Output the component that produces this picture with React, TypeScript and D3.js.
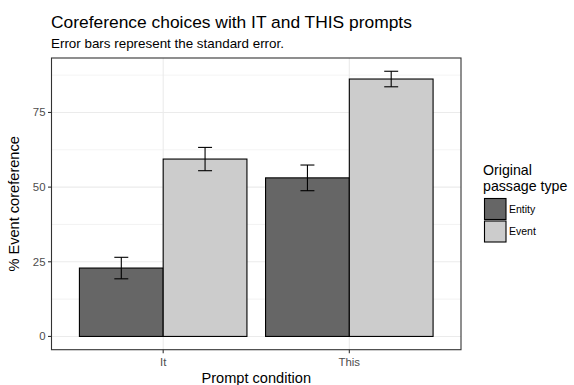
import * as d3 from "d3";

const prompts = ["It", "This"];
const passageTypes = ["Entity", "Event"];
const fills = ["#666666", "#CCCCCC"];
// mean % event coreference per passage type, in prompt order
const meanEntity = [22.9, 53.1];
const meanEvent = [59.4, 86.2];
// standard errors
const seEntity = [3.6, 4.3];
const seEvent = [3.9, 2.6];
const yTicks = [0, 25, 50, 75];
const yMinor = [12.5, 37.5, 62.5, 87.5];

const W = 574;
const H = 385;
const panel = { left: 51.5, right: 461, top: 58, bottom: 349.7 };

const rows = prompts.flatMap((p, i) => [
  { prompt: p, type: passageTypes[0], mean: meanEntity[i], se: seEntity[i] },
  { prompt: p, type: passageTypes[1], mean: meanEvent[i], se: seEvent[i] },
]);

const App = () => {
  const maxTop = d3.max(rows, (d) => d.mean + d.se) as number;
  const pad = maxTop * 0.05;
  const y = d3
    .scaleLinear()
    .domain([-pad, maxTop + pad])
    .range([panel.bottom, panel.top]);

  // discrete axis with 0.6 expansion each side
  const x = d3
    .scaleLinear()
    .domain([0.4, prompts.length + 0.6])
    .range([panel.left, panel.right]);
  const dodge = d3.scaleBand().domain(passageTypes).range([-0.45, 0.45]);
  const color = d3.scaleOrdinal<string>().domain(passageTypes).range(fills);
  const capHalf = 0.0375;

  const font = "'Liberation Sans', Arial, Helvetica, sans-serif";

  return (
    <svg
      width={W}
      height={H}
      style={{ position: "absolute", left: 0, top: 0, background: "white" }}
      fontFamily={font}
    >
      <rect x={0} y={0} width={W} height={H} fill="white" />
      <text x={51} y={27.5} fontSize={17.4} fill="#000">
        Coreference choices with IT and THIS prompts
      </text>
      <text x={51} y={47.5} fontSize={13.4} fill="#000">
        Error bars represent the standard error.
      </text>

      {/* grid */}
      {yMinor.map((v) => (
        <line key={"mi" + v} x1={panel.left} x2={panel.right} y1={y(v)} y2={y(v)} stroke="#EBEBEB" strokeWidth={0.6} />
      ))}
      {yTicks.map((v) => (
        <line key={"ma" + v} x1={panel.left} x2={panel.right} y1={y(v)} y2={y(v)} stroke="#EBEBEB" strokeWidth={1.1} />
      ))}
      {prompts.map((p, i) => (
        <line key={"vx" + p} x1={x(i + 1)} x2={x(i + 1)} y1={panel.top} y2={panel.bottom} stroke="#EBEBEB" strokeWidth={1.1} />
      ))}

      {/* bars */}
      {rows.map((d) => {
        const i = prompts.indexOf(d.prompt) + 1;
        const x0 = x(i + (dodge(d.type) as number));
        const x1 = x(i + (dodge(d.type) as number) + dodge.bandwidth());
        return (
          <rect
            key={d.prompt + d.type}
            x={x0}
            y={y(d.mean)}
            width={x1 - x0}
            height={y(0) - y(d.mean)}
            fill={color(d.type)}
            stroke="#000"
            strokeWidth={1.1}
          />
        );
      })}

      {/* error bars */}
      {rows.map((d) => {
        const i = prompts.indexOf(d.prompt) + 1;
        const c = i + (dodge(d.type) as number) + dodge.bandwidth() / 2;
        const hi = y(d.mean + d.se);
        const lo = y(d.mean - d.se);
        return (
          <g key={"e" + d.prompt + d.type} stroke="#000" strokeWidth={1.1}>
            <line x1={x(c)} x2={x(c)} y1={hi} y2={lo} />
            <line x1={x(c - capHalf)} x2={x(c + capHalf)} y1={hi} y2={hi} />
            <line x1={x(c - capHalf)} x2={x(c + capHalf)} y1={lo} y2={lo} />
          </g>
        );
      })}

      <rect
        x={panel.left}
        y={panel.top}
        width={panel.right - panel.left}
        height={panel.bottom - panel.top}
        fill="none"
        stroke="#333333"
        strokeWidth={1.1}
      />

      {/* y axis */}
      {yTicks.map((v) => (
        <g key={"yt" + v}>
          <line x1={panel.left - 3.5} x2={panel.left} y1={y(v)} y2={y(v)} stroke="#333333" strokeWidth={1.1} />
          <text x={panel.left - 6} y={y(v)} dy="0.35em" textAnchor="end" fontSize={11.4} fill="#4D4D4D">
            {v}
          </text>
        </g>
      ))}
      {/* x axis */}
      {prompts.map((p, i) => (
        <g key={"xt" + p}>
          <line x1={x(i + 1)} x2={x(i + 1)} y1={panel.bottom} y2={panel.bottom + 3.5} stroke="#333333" strokeWidth={1.1} />
          <text x={x(i + 1)} y={panel.bottom + 16.3} textAnchor="middle" fontSize={11.4} fill="#4D4D4D">
            {p}
          </text>
        </g>
      ))}

      <text
        x={(panel.left + panel.right) / 2}
        y={383}
        textAnchor="middle"
        fontSize={14.6}
        fill="#000"
      >
        Prompt condition
      </text>
      <text
        transform={`translate(19, ${(panel.top + panel.bottom) / 2}) rotate(-90)`}
        textAnchor="middle"
        fontSize={14.6}
        fill="#000"
      >
        % Event coreference
      </text>

      {/* legend */}
      <text x={483} y={174.6} fontSize={14.2} fill="#000">
        Original
      </text>
      <text x={483} y={190.8} fontSize={14.2} fill="#000">
        passage type
      </text>
      {passageTypes.map((t, i) => (
        <g key={"lg" + t} transform={`translate(484.5, ${198.5 + i * 22.5})`}>
          <rect x={0} y={0} width={21.5} height={21} fill={color(t)} stroke="#000" strokeWidth={1.1} />
          <text x={24.5} y={10.5} dy="0.35em" fontSize={10.5} fill="#000">
            {t}
          </text>
        </g>
      ))}
    </svg>
  );
};

export default App;
